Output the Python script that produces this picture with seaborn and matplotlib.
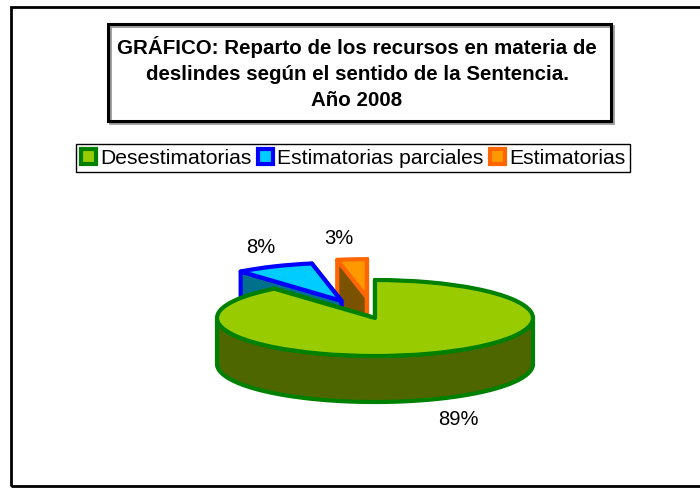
import numpy as np
import matplotlib
matplotlib.use("Agg")
import matplotlib.pyplot as plt
import seaborn as sns
from matplotlib.patches import Rectangle, Polygon, Patch

# ---------------- data ----------------
categories = ["Desestimatorias", "Estimatorias parciales", "Estimatorias"]
values = [89, 8, 3]
pct_labels = ["89%", "8%", "3%"]
title_text = ("GRÁFICO: Reparto de los recursos en materia de\n"
              "deslindes según el sentido de la Sentencia.\n"
              "Año 2008")

# ---------------- style ----------------
top_colors = ["#99CC00", "#00CCFF", "#FF9900"]
side_colors = ["#4D6600", "#00708C", "#7A5200"]
edge_colors = ["#008000", "#0000FF", "#FF6600"]
explode = [0.0, 0.5, 0.55]
draw_rank = [10, 5, 1]          # painter order (back slices first)
label_kx = [1.55, 1.2, 1.9]
label_ky = 1.55

sns.set_theme(style="white")
plt.rcParams['font.family'] = ['Liberation Sans', 'DejaVu Sans']
plt.rcParams['text.color'] = 'black'

W, H = 700, 488
fig = plt.figure(figsize=(W / 100, H / 100), dpi=100)
fig.patch.set_facecolor("white")

# pie geometry (pixels)
cx, cy = 375, 318
a_px, b_px = 158, 38
depth_px = 46
axw, axh = 560, 340
ax = fig.add_axes([(cx - axw / 2) / W, (H - cy - axh / 2) / H, axw / W, axh / H])
depth = depth_px / b_px

wedges, _ = ax.pie(values, explode=explode, startangle=90, counterclock=False,
                   colors=top_colors, radius=1.0,
                   wedgeprops=dict(linewidth=3.0, joinstyle="round"))
ax.set_xlim(-axw / 2 / a_px, axw / 2 / a_px)
ax.set_ylim(-axh / 2 / b_px, axh / 2 / b_px)
ax.set_aspect("auto")
ax.axis("off")

lw = 3.0
for i, w in enumerate(wedges):
    z = draw_rank[i]
    x0, y0 = w.center
    r = w.r
    t1, t2 = np.deg2rad(w.theta1), np.deg2rad(w.theta2)
    dvec = np.array([0.0, depth])
    c = np.array([x0, y0])
    # radial walls
    for t, sgn in ((t1, -1), (t2, 1)):
        n_ang = t + sgn * np.pi / 2
        front = np.sin(n_ang) < 0
        p = np.array([x0 + r * np.cos(t), y0 + r * np.sin(t)])
        poly = Polygon([c, p, p - dvec, c - dvec], closed=True,
                       facecolor=side_colors[i], edgecolor=edge_colors[i],
                       linewidth=lw, joinstyle="round",
                       zorder=z + (1 if front else 0))
        ax.add_patch(poly)
    # outer arc wall (front-facing part)
    ts = np.linspace(t1, t2, 600)
    ks = np.arange(np.ceil(t1 / np.pi), np.floor(t2 / np.pi) + 1) * np.pi
    ts = np.unique(np.concatenate([ts, ks]))
    mask = np.sin(ts) <= 1e-9
    idx = np.where(mask)[0]
    if len(idx):
        runs = np.split(idx, np.where(np.diff(idx) != 1)[0] + 1)
        for run in runs:
            if len(run) < 2:
                continue
            tt = ts[run]
            top = np.column_stack([x0 + r * np.cos(tt), y0 + r * np.sin(tt)])
            bot = top - dvec
            poly = Polygon(np.vstack([top, bot[::-1]]), closed=True,
                           facecolor=side_colors[i], edgecolor=edge_colors[i],
                           linewidth=lw, joinstyle="round", zorder=z + 1)
            ax.add_patch(poly)
    w.set_edgecolor(edge_colors[i])
    w.set_zorder(z + 2)

    # percentage label
    m = 0.5 * (t1 + t2)
    lx = x0 + label_kx[i] * np.cos(m)
    ly = y0 + label_ky * np.sin(m) - (depth if np.sin(m) < 0 else 0)
    ax.text(lx, ly, pct_labels[i], ha="center", va="center",
            fontsize=14.5, color="black", zorder=30)

# ---------------- legend ----------------
handles = [Patch(facecolor=top_colors[i], edgecolor=edge_colors[i], linewidth=3.0)
           for i in range(len(categories))]
leg = fig.legend(handles, categories, loc="center", ncol=3,
                 bbox_to_anchor=(353 / W, 1 - 158 / H),
                 fontsize=15.2, frameon=True, fancybox=False, framealpha=1,
                 edgecolor="black", handlelength=0.72, handleheight=0.72,
                 handletextpad=0.2, columnspacing=0.3, borderpad=0.2,
                 borderaxespad=0)
leg.get_frame().set_linewidth(1.0)
for t in leg.get_texts():
    t.set_color("black")

# ---------------- title box ----------------
def px_rect(x1, y1, x2, y2, **kw):
    return Rectangle((x1 / W, 1 - y2 / H), (x2 - x1) / W, (y2 - y1) / H,
                     transform=fig.transFigure, fill=False, **kw)

fig.add_artist(px_rect(110, 26, 613, 123, edgecolor="#999999", linewidth=2.0))
fig.add_artist(px_rect(108, 24, 611, 121, edgecolor="black", linewidth=2.2))
fig.text(357 / W, 1 - 73 / H, title_text, ha="center", va="center",
         fontsize=14.8, fontweight="bold", linespacing=1.45, color="black")

# outer frame
fig.add_artist(px_rect(11, 7, 705, 486, edgecolor="black", linewidth=2.0))

fig.savefig("out.png", dpi=100, facecolor="white")
